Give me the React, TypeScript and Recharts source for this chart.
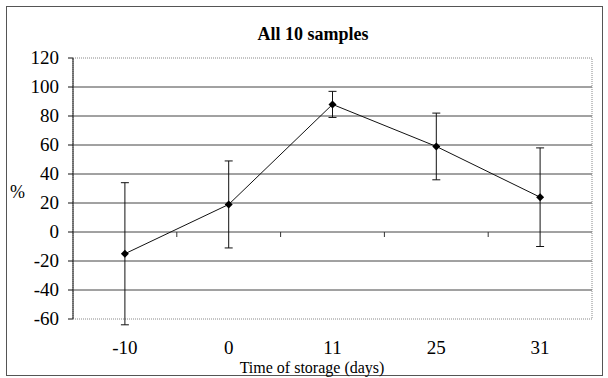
import { LineChart, Line, XAxis, YAxis, CartesianGrid, ErrorBar, ReferenceArea } from "recharts";

// storage time categories and the mean % with its error (± half-range)
const days = ["-10", "0", "11", "25", "31"];
const means = [-15, 19, 88, 59, 24];
const errors = [49, 30, 9, 23, 34];
const yTicks = [-60, -40, -20, 0, 20, 40, 60, 80, 100, 120];
const gridValues = [-40, -20, 0, 20, 40, 60, 80, 100];

const data = days.map((day, i) => ({ day, mean: means[i], err: errors[i] }));

const W = 608;
const H = 378;
const M = { top: 58, right: 16, bottom: 19, left: 0 };
const Y_AXIS_W = 73;
const X_AXIS_H = 40;
const Y_MIN = -60;
const Y_MAX = 120;
const plotW = W - M.left - M.right - Y_AXIS_W;
const plotH = H - M.top - M.bottom - X_AXIS_H;
const zeroY = M.top + (Y_MAX / (Y_MAX - Y_MIN)) * plotH;
const serif = "Liberation Serif, serif";

const DayTick = (props: any) => {
  const { x, y, payload, index } = props;
  const half = plotW / days.length / 2;
  return (
    <g>
      <text x={x} y={y} dy={27} textAnchor="middle" fontFamily={serif} fontSize={19} fill="#000">
        {payload.value}
      </text>
      {index < days.length - 1 && (
        <line x1={x + half} x2={x + half} y1={zeroY} y2={zeroY + 5} stroke="#333" />
      )}
    </g>
  );
};

const PctTick = (props: any) => {
  const { x, y, payload } = props;
  return (
    <text x={x} y={y} dy={6} textAnchor="end" fontFamily={serif} fontSize={19} fill="#000">
      {payload.value}
    </text>
  );
};

const Diamond = (p: any) => {
  const { cx, cy, index } = p;
  if (cx == null || cy == null) return <g key={`d-${index}`} />;
  return (
    <polygon
      key={`d-${index}`}
      points={`${cx},${cy - 4} ${cx + 4},${cy} ${cx},${cy + 4} ${cx - 4},${cy}`}
      fill="#000"
    />
  );
};

export default function App() {
  return (
    <div style={{ position: "absolute", left: 0, top: 0, width: W, height: H, background: "#fff", fontFamily: serif }}>
      <div
        style={{
          position: "absolute",
          left: 6,
          top: 6,
          width: 597,
          height: 370,
          border: "1px solid #555",
          boxSizing: "border-box",
        }}
      />
      <LineChart width={W} height={H} data={data} margin={M}>
        <CartesianGrid horizontal vertical={false} horizontalValues={gridValues} stroke="#444" />
        <ReferenceArea y1={Y_MIN} y2={Y_MAX} fill="none" stroke="#888" strokeDasharray="1 1" />
        <XAxis
          dataKey="day"
          scale="band"
          height={X_AXIS_H}
          axisLine={false}
          tickLine={false}
          tick={DayTick}
          interval={0}
        />
        <YAxis
          width={Y_AXIS_W}
          domain={[Y_MIN, Y_MAX]}
          ticks={yTicks}
          allowDataOverflow
          interval={0}
          axisLine={{ stroke: "#111" }}
          tickLine={{ stroke: "#111" }}
          tickSize={5}
          tickMargin={9}
          tick={PctTick}
        />
        <Line
          dataKey="mean"
          type="linear"
          stroke="#111"
          strokeWidth={1}
          dot={Diamond}
          activeDot={false}
          isAnimationActive={false}
        >
          <ErrorBar dataKey="err" width={4} stroke="#111" strokeWidth={1} direction="y" />
        </Line>
      </LineChart>
      <div
        style={{
          position: "absolute",
          left: 0,
          width: 626,
          top: 24,
          textAlign: "center",
          fontWeight: "bold",
          fontSize: 18,
          lineHeight: "20px",
        }}
      >
        All 10 samples
      </div>
      <div style={{ position: "absolute", left: 10, top: 182, fontSize: 18, lineHeight: "20px" }}>%</div>
      <div
        style={{
          position: "absolute",
          left: 0,
          width: 624,
          top: 359,
          textAlign: "center",
          fontSize: 16,
          lineHeight: "17px",
        }}
      >
        Time of storage (days)
      </div>
    </div>
  );
}
